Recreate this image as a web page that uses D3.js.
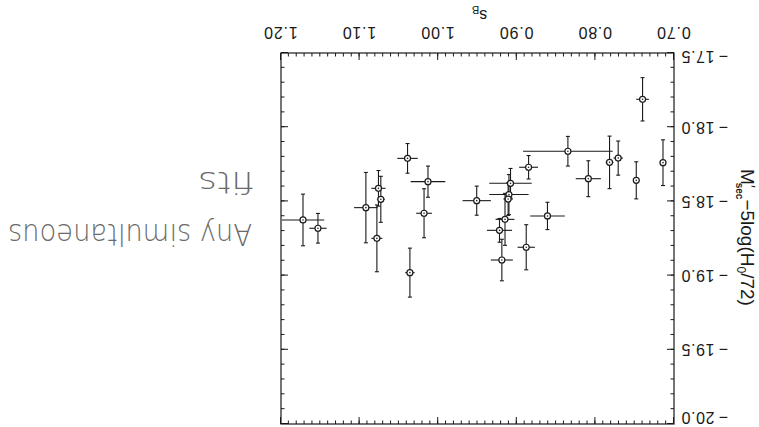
<!DOCTYPE html>
<html><head><meta charset="utf-8">
<script src="https://cdn.jsdelivr.net/npm/d3@7"></script>
<style>body{margin:0;background:#fff}svg{display:block}</style>
</head><body>
<script>
// Data (stretch factor s_B vs. secondary-max absolute magnitude)
const sB     = [1.172, 1.153, 1.092, 1.076, 1.073, 1.078, 1.039, 1.036, 1.013, 1.018, 0.951,
                0.740, 0.714, 0.748, 0.771, 0.782, 0.835, 0.809, 0.885, 0.908, 0.910, 0.911,
                0.915, 0.922, 0.919, 0.888, 0.861];
const sBErr  = [0.027, 0.011, 0.015, 0.009, 0.005, 0.007, 0.013, 0.006, 0.022, 0.010, 0.018,
                0.008, 0.004, 0.004, 0.006, 0.005, 0.057, 0.016, 0.012, 0.027, 0.025, 0.006,
                0.012, 0.016, 0.014, 0.011, 0.022];
const mag    = [-18.625, -18.681, -18.542, -18.412, -18.486, -18.749, -18.210, -18.980, -18.367, -18.580, -18.495,
                -17.812, -18.239, -18.358, -18.208, -18.237, -18.162, -18.347, -18.270, -18.378, -18.454, -18.484,
                -18.621, -18.695, -18.895, -18.809, -18.598];
const magErr = [0.174, 0.100, 0.237, 0.120, 0.155, 0.225, 0.100, 0.165, 0.105, 0.165, 0.098,
                0.146, 0.154, 0.125, 0.115, 0.177, 0.100, 0.121, 0.079, 0.100, 0.135, 0.110,
                0.175, 0.080, 0.140, 0.152, 0.092];
const xTickValues = [0.70, 0.80, 0.90, 1.00, 1.10, 1.20];
const yTickValues = [-20.0, -19.5, -19.0, -18.5, -18.0, -17.5];
const noteLines = ["Any simultaneous", "fits"];

const W = 759, H = 427;
const svg = d3.select("body").append("svg").attr("width", W).attr("height", H);
svg.append("rect").attr("width", W).attr("height", H).attr("fill", "#fff");
// The scanned page is upside down: draw normally then rotate 180°
const g = svg.append("g").attr("transform", `rotate(180 ${W/2} ${H/2})`);

const L = 85, R = 478, T = 3, B = 374;
const x = d3.scaleLinear().domain([0.70, 1.20]).range([L, R]);
const y = d3.scaleLinear().domain([-20.0, -17.5]).range([T, B]);
const ink = "#1a1a1a";
const font = "'Liberation Sans', Arial, Helvetica, sans-serif";

const minorX = d3.range(70, 121).map(v => v / 100);
const minorY = d3.range(-200, -174).map(v => v / 10);

function styleAxis(sel) {
  sel.selectAll(".domain").remove();
  sel.selectAll("line").attr("stroke", ink).attr("stroke-width", 1);
  sel.selectAll("text").attr("fill", ink).style("font-family", font).style("font-size", "16px");
}
// bottom
g.append("g").attr("transform", `translate(0,${B})`)
  .call(d3.axisBottom(x).tickValues(minorX).tickSize(-3.5).tickFormat(""))
  .call(styleAxis);
g.append("g").attr("transform", `translate(0,${B})`)
  .call(d3.axisBottom(x).tickValues(xTickValues).tickSize(-7).tickPadding(15).tickFormat(d3.format(".2f")))
  .call(styleAxis)
  .call(s => s.selectAll("text").attr("letter-spacing", "0.8px"));
// top
g.append("g").attr("transform", `translate(0,${T})`)
  .call(d3.axisTop(x).tickValues(minorX).tickSize(-3.5).tickFormat(""))
  .call(styleAxis);
g.append("g").attr("transform", `translate(0,${T})`)
  .call(d3.axisTop(x).tickValues(xTickValues).tickSize(-7).tickFormat(""))
  .call(styleAxis);
// left
const yFmt = v => "\u2212\u2009" + Math.abs(v).toFixed(1);
g.append("g").attr("transform", `translate(${L},0)`)
  .call(d3.axisLeft(y).tickValues(minorY).tickSize(-3.5).tickFormat(""))
  .call(styleAxis);
g.append("g").attr("transform", `translate(${L},0)`)
  .call(d3.axisLeft(y).tickValues(yTickValues).tickSize(-7).tickPadding(7).tickFormat(yFmt))
  .call(styleAxis)
  .call(s => s.selectAll("text").attr("letter-spacing", "0.6px")
    .attr("y", d => d === yTickValues[0] ? 6 : (d === yTickValues[yTickValues.length - 1] ? -4 : 0)));
// right
g.append("g").attr("transform", `translate(${R},0)`)
  .call(d3.axisRight(y).tickValues(minorY).tickSize(-3.5).tickFormat(""))
  .call(styleAxis);
g.append("g").attr("transform", `translate(${R},0)`)
  .call(d3.axisRight(y).tickValues(yTickValues).tickSize(-7).tickFormat(""))
  .call(styleAxis);
// frame
g.append("rect").attr("x", L).attr("y", T).attr("width", R - L).attr("height", B - T)
  .attr("fill", "none").attr("stroke", ink).attr("stroke-width", 1.2);

// axis titles
const xt = g.append("text").attr("x", (L + R) / 2 - 2).attr("y", 417).attr("text-anchor", "middle")
  .attr("fill", ink).style("font-family", font).style("font-size", "16px");
xt.append("tspan").text("s");
xt.append("tspan").attr("dy", 4).style("font-size", "11px").text("B");

const yt = g.append("text").attr("transform", `translate(18,${(T + B) / 2 + 1}) rotate(-90)`)
  .attr("text-anchor", "middle").attr("fill", ink)
  .style("font-family", font).style("font-size", "19px");
yt.append("tspan").text("M");
yt.append("tspan").attr("dy", -4).style("font-size", "15px").text("\u2032");
yt.append("tspan").attr("dy", 9).attr("dx", -5).style("font-size", "10px").style("font-weight", "bold").text("sec");
yt.append("tspan").attr("dy", -5).text("\u22125log(H");
yt.append("tspan").attr("dy", 4).style("font-size", "12px").text("0");
yt.append("tspan").attr("dy", -4).text("/72)");

// data marks
const idx = d3.range(sB.length);
const eb = g.append("g").attr("stroke", ink).attr("stroke-width", 1.1);
eb.selectAll(".v").data(idx).join("line")
  .attr("x1", i => x(sB[i])).attr("x2", i => x(sB[i]))
  .attr("y1", i => y(mag[i] - magErr[i])).attr("y2", i => y(mag[i] + magErr[i]));
eb.selectAll(".c1").data(idx).join("line")
  .attr("x1", i => x(sB[i]) - 2).attr("x2", i => x(sB[i]) + 2)
  .attr("y1", i => y(mag[i] - magErr[i])).attr("y2", i => y(mag[i] - magErr[i]));
eb.selectAll(".c2").data(idx).join("line")
  .attr("x1", i => x(sB[i]) - 2).attr("x2", i => x(sB[i]) + 2)
  .attr("y1", i => y(mag[i] + magErr[i])).attr("y2", i => y(mag[i] + magErr[i]));
eb.selectAll(".h").data(idx).join("line")
  .attr("x1", i => x(sB[i] - sBErr[i])).attr("x2", i => x(sB[i] + sBErr[i]))
  .attr("y1", i => y(mag[i])).attr("y2", i => y(mag[i]));
g.append("g").selectAll("circle").data(idx).join("circle")
  .attr("cx", i => x(sB[i])).attr("cy", i => y(mag[i])).attr("r", 3)
  .attr("fill", "#fff").attr("stroke", ink).attr("stroke-width", 1.2);
g.append("g").selectAll("circle").data(idx).join("circle")
  .attr("cx", i => x(sB[i])).attr("cy", i => y(mag[i])).attr("r", 0.8).attr("fill", ink);

// handwritten note
const note = g.append("g").attr("fill", "#6a6a6a")
  .style("font-family", "'DejaVu Sans', sans-serif").style("font-weight", 200);
note.append("text").attr("x", 507).attr("y", 203).style("font-size", "30px")
  .attr("textLength", 244).attr("lengthAdjust", "spacingAndGlyphs").text(noteLines[0]);
note.append("text").attr("x", 505).attr("y", 255).style("font-size", "30px")
  .attr("textLength", 56).attr("lengthAdjust", "spacingAndGlyphs").text(noteLines[1]);
</script>
</body></html>
